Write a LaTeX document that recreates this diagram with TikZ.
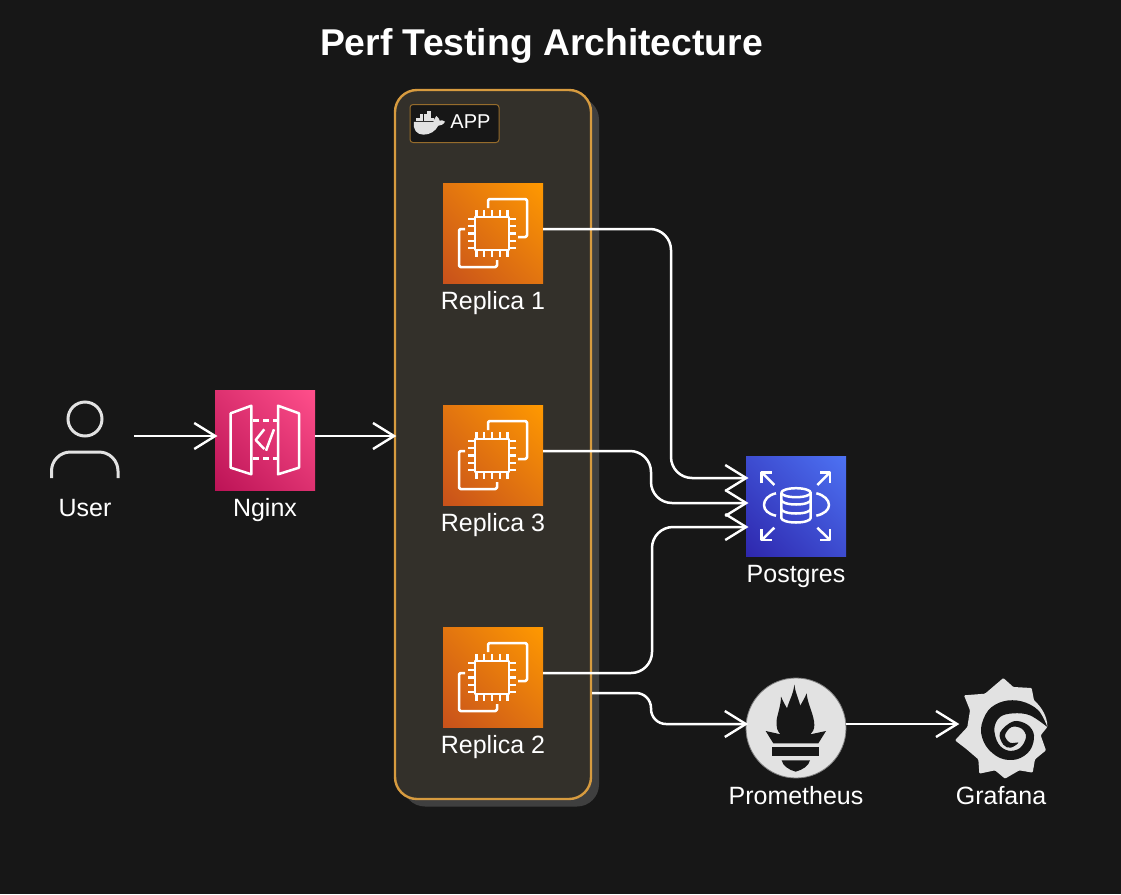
\documentclass[tikz,border=0pt]{standalone}
\usepackage{fontspec}
\setmainfont{Liberation Sans}
\usetikzlibrary{arrows.meta,shadings}
\definecolor{bgc}{HTML}{171717}
\definecolor{groupfill}{HTML}{33302A}
\definecolor{groupline}{HTML}{D79B3F}
\definecolor{shadowc}{HTML}{3F3F3F}
\definecolor{lightc}{HTML}{E2E2E2}
\tikzset{
  conn/.style={draw=white,line width=2.5pt,shorten >=-2.5pt,-{Straight Barb[length=21pt,width=26pt,line width=2.4pt]}},
  bendy/.style={rounded corners=21pt},
  lbl/.style={text=white,font=\fontsize{25}{28}\selectfont,inner sep=0pt,anchor=base},
  icon/.style={minimum size=100pt,inner sep=0pt,outer sep=0pt,shade},
  ec2box/.style={icon,upper right=ecA,lower left=ecB,upper left=ecC,lower right=ecC},
  apibox/.style={icon,upper right=apA,lower left=apB,upper left=apC,lower right=apC},
  rdsbox/.style={icon,upper right=rdA,lower left=rdB,upper left=rdC,lower right=rdC},
  glyph/.style={draw=white,line width=2.5pt,line join=round},
  chip/.pic={
    \draw[glyph] (32,34) rectangle (66,67);
    \draw[glyph,rounded corners=1.5pt] (45,25) -- (45,16) -- (84,16) -- (84,54) -- (75,54);
    \draw[glyph,rounded corners=1.5pt] (22,46) -- (16,46) -- (16,84) -- (54,84) -- (54,77);
    \foreach \t in {33.5,41,49,57,64.5}{
      \draw[glyph] (\t,27) -- (\t,34);
      \draw[glyph] (\t,67) -- (\t,74);
    }
    \foreach \t in {36,43,50.5,58,65}{
      \draw[glyph] (25,\t) -- (32,\t);
      \draw[glyph] (66,\t) -- (73,\t);
    }
  },
}
\definecolor{ecA}{HTML}{FF9900}\definecolor{ecB}{HTML}{C8511B}\definecolor{ecC}{HTML}{E27510}
\definecolor{apA}{HTML}{FF4F8B}\definecolor{apB}{HTML}{BC1356}\definecolor{apC}{HTML}{DD3170}
\definecolor{rdA}{HTML}{4D72F3}\definecolor{rdB}{HTML}{2E27AD}\definecolor{rdC}{HTML}{3D4CD0}
\begin{document}
\begin{tikzpicture}[x=1pt,y=-1pt]
\useasboundingbox (0,0) rectangle (1121,894);
\fill[bgc] (0,0) rectangle (1121,894);

\node[text=white,inner sep=0pt,anchor=base,font=\bfseries\fontsize{37.3}{40}\selectfont] (title) at (541.5,55) {Perf Testing Architecture};

% group
\node[fill=shadowc,rounded corners=22pt,minimum width=196pt,minimum height=709pt,inner sep=0pt] (appshadow) at (501,452) {};
\node[fill=groupfill,draw=groupline,line width=2.4pt,rounded corners=22pt,minimum width=196pt,minimum height=709pt,inner sep=0pt] (app) at (493,444.5) {};
\node[fill=bgc,draw=groupline!70!black,line width=1pt,rounded corners=3pt,minimum width=89pt,minimum height=38pt,inner sep=0pt] (applabel) at (454.5,123.5) {};
\node[text=white,inner sep=0pt,font=\fontsize{20}{24}\selectfont] (apptext) at (470.5,122) {APP};
% docker whale
\begin{scope}[shift={(410,104)},x=0.3333pt,y=-0.3333pt]
  \fill[lightc] (12,54) -- (70,54) .. controls (72,48) and (74,42) .. (79,36) .. controls (84,40) and (88,44) .. (89,50) .. controls (94,47) and (100,49) .. (105,53) .. controls (100,62) and (92,65) .. (85,65) .. controls (76,82) and (60,92) .. (40,92) .. controls (20,92) and (8,76) .. (12,54) -- cycle;
  \foreach \a/\b in {19/42,30/42,41/42,52/42,63/42,30/31,41/31,52/31,52/20}{
    \fill[lightc] (\a,\b) rectangle +(10,10);
  }
\end{scope}

% nodes
\node[ec2box] (r1) at (493,233) {};
\node[ec2box] (r3) at (493,455) {};
\node[ec2box] (r2) at (493,677) {};
\pic at (443,183) {chip};
\pic at (443,405) {chip};
\pic at (443,627) {chip};
\node[lbl] (r1t) at (493,309) {Replica 1};
\node[lbl] (r3t) at (493,531) {Replica 3};
\node[lbl] (r2t) at (493,753) {Replica 2};

% user
\node[minimum size=98pt,inner sep=0pt] (user) at (85,436) {};
\node[draw=lightc,line width=3pt,circle,minimum size=34pt,inner sep=0pt] (head) at (85,419) {};
\draw[draw=lightc,line width=3pt] (51.5,478) -- (51.5,471) arc[start angle=180,end angle=90,radius=19pt] -- (99,452) arc[start angle=90,end angle=0,radius=19pt] -- (118,478);
\node[lbl] (usert) at (85,516) {User};

% nginx
\node[apibox] (nginx) at (265,440) {};
\begin{scope}[shift={(215,390)}]
  \draw[glyph] (15.7,23.3) -- (36.3,15.7) -- (36.3,84.3) -- (15.7,77.7) -- cycle;
  \draw[glyph] (63,15.7) -- (84,23.3) -- (84,77.7) -- (63,84.3) -- cycle;
  \draw[glyph,dash pattern=on 6pt off 4pt] (38,30.7) -- (63,30.7);
  \draw[glyph,dash pattern=on 6pt off 4pt] (38,68.3) -- (63,68.3);
  \draw[glyph] (49.3,39.3) -- (40.7,50) -- (49.3,59);
  \draw[glyph] (59,39.3) -- (51,60.7);
\end{scope}
\node[lbl] (nginxt) at (265,516) {Nginx};

% postgres
\node[rdsbox] (pg) at (796,506) {};
\begin{scope}[shift={(746,456)}]
  \draw[glyph] (28.3,29) -- (15.7,16.3);
  \draw[glyph] (15.7,27) -- (15.7,16.3) -- (26,16.3);
  \draw[glyph] (71.3,29) -- (84,16.3);
  \draw[glyph] (84,27) -- (84,16.3) -- (73.5,16.3);
  \draw[glyph] (28.3,71.7) -- (15.7,84);
  \draw[glyph] (15.7,73) -- (15.7,84) -- (26,84);
  \draw[glyph] (71.3,71.7) -- (84,84);
  \draw[glyph] (84,73) -- (84,84) -- (73.5,84);
  \draw[glyph] (50,36.7) ellipse[x radius=14.7pt,y radius=4.5pt];
  \draw[glyph] (35.3,36.7) -- (35.3,62) arc[start angle=180,end angle=360,x radius=14.7pt,y radius=4.5pt] -- (64.7,36.7);
  \draw[glyph] (35.3,44) arc[start angle=180,end angle=360,x radius=14.7pt,y radius=4.5pt];
  \draw[glyph] (35.3,53) arc[start angle=180,end angle=360,x radius=14.7pt,y radius=4.5pt];
  \draw[glyph] (30,37.3) .. controls (22,39) and (18,44) .. (18,49) .. controls (18,54) and (22,58) .. (30,59.7);
  \draw[glyph] (70.3,37.3) .. controls (78,39) and (83,44) .. (83,49) .. controls (83,54) and (78,58) .. (70.3,59.7);
\end{scope}
\node[lbl] (pgt) at (796,582) {Postgres};

% prometheus
\node[circle,fill=lightc,draw=gray,line width=0.8pt,minimum size=100pt,inner sep=0pt] (prom) at (796,728) {};
\begin{scope}[shift={(745,675)},x=0.3333pt,y=-0.3333pt]
  \fill[bgc] (148,28) .. controls (150,50) and (160,70) .. (166,92) .. controls (172,80) and (180,68) .. (185,55) .. controls (188,90) and (208,120) .. (208,150) .. controls (208,165) and (202,172) .. (196,178) -- (243,168) -- (220,205) -- (85,205) -- (62,168) -- (107,178) .. controls (98,170) and (93,160) .. (95,135) .. controls (98,115) and (108,90) .. (108,65) .. controls (114,78) and (120,90) .. (126,100) .. controls (132,78) and (146,55) .. (148,28) -- cycle;
  \fill[bgc] (82,217) rectangle (222,242);
  \fill[bgc] (110,256) -- (195,256) .. controls (192,272) and (172,285) .. (152,290) .. controls (132,285) and (113,272) .. (110,256) -- cycle;
\end{scope}
\node[lbl] (promt) at (796,804) {Prometheus};

% grafana
\node[minimum size=100pt,inner sep=0pt] (graf) at (1001,728) {};
\begin{scope}[shift={(950,672)},x=0.3333pt,y=-0.3333pt]
  \fill[lightc,rounded corners=1pt] (160,18) -- (190,45) -- (245,48) -- (252,85) .. controls (275,105) and (292,135) .. (292,165) -- (272,190) -- (288,235) -- (255,262) -- (248,302) -- (208,295) -- (165,320) -- (135,295) -- (88,305) -- (85,262) -- (50,232) -- (15,205) -- (52,165) -- (60,115) -- (42,70) -- (105,65) -- cycle;
  \fill[bgc] plot[smooth,tension=0.6] coordinates {(292,165) (265,115) (215,88) (160,88) (115,115) (93,170) (108,222) (150,258) (200,262) (240,235) (252,190) (232,158) (190,148) (150,182) (160,218) (182,227) (205,212) (180,212) (165,190) (185,165) (215,170) (228,195) (210,228) (175,236) (145,215) (133,170) (150,135) (190,124) (240,130) (292,165)};
\end{scope}
\node[lbl] (graft) at (1001,804) {Grafana};

% connectors
\draw[conn] (user.east) -- ([yshift=4pt]nginx.west);
\draw[conn] ([yshift=4pt]nginx.east) -- ([yshift=8.5pt]app.west);
\draw[conn,bendy] ([yshift=4pt]r1.east) -- (671,229) -- (671,478) -- ([yshift=28pt]pg.west);
\draw[conn,bendy] ([yshift=4pt]r3.east) -- (651,451) -- (651,503) -- ([yshift=3pt]pg.west);
\draw[conn,bendy] ([yshift=4pt]r2.east) -- (652,673) -- (652,527) -- ([yshift=-21pt]pg.west);
\draw[conn,rounded corners=15pt] ([yshift=-248.5pt]app.east) -- (651,693) -- (651,724) -- ([yshift=4pt]prom.west);
\draw[conn] ([yshift=4pt]prom.east) -- ([yshift=4pt,xshift=6pt]graf.west);
\end{tikzpicture}
\end{document}
